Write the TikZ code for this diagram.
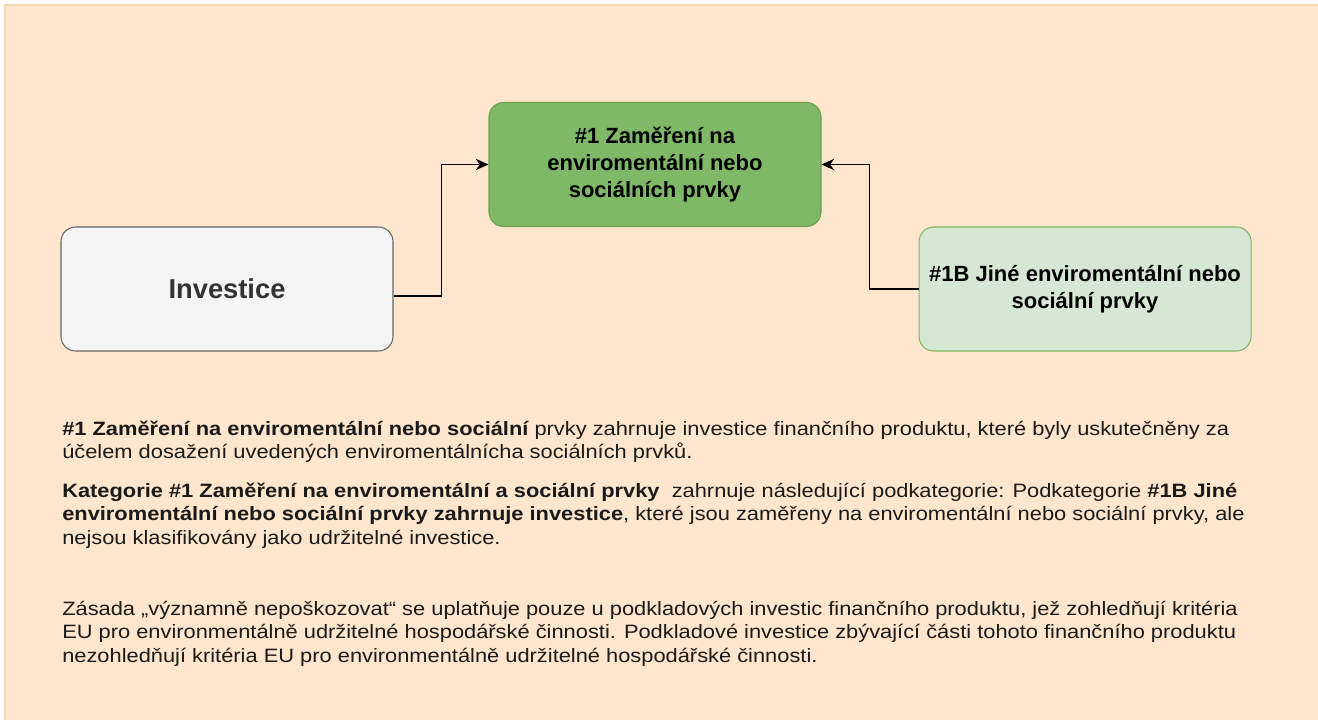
\documentclass[tikz,border=0pt]{standalone}
\usepackage{fontspec}
\setmainfont{Liberation Sans}
\newfontfamily\bodyfont[FakeStretch=1.13]{Liberation Sans}
\usetikzlibrary{positioning}
\usetikzlibrary{arrows.meta}
\usetikzlibrary{calc}

\definecolor{pagefill}{HTML}{FFE6CC}
\definecolor{pageline}{HTML}{F7D9AE}
\definecolor{focusfill}{HTML}{7FB866}
\definecolor{focusline}{HTML}{6A9F55}
\definecolor{otherfill}{HTML}{D5E8D4}
\definecolor{otherline}{HTML}{82B366}
\definecolor{invfill}{HTML}{F5F5F5}
\definecolor{invline}{HTML}{666666}
\definecolor{invtext}{HTML}{333333}
\definecolor{bodytext}{HTML}{1A1A1A}

\begin{document}
\begin{tikzpicture}[ x = 0.75pt
                   , y = -0.75pt
                   , >={Stealth[length=9.5pt, width=8.5pt, inset=3pt]}
                   , every node/.style = { align = center
                                       , inner sep = 0pt }
                   ]

  \useasboundingbox (0,0) rectangle (1318,720);
  \fill[white] (0,0) rectangle (1318,720);
  \draw[fill=pagefill, draw=pageline, line width=1pt] (5,5) rectangle (1322,724);

  %%
  %% Nodes
  %%
  \tikzset{ box/.style={rectangle, rounded corners=11pt, line width=0.8pt,
                        minimum width=249pt, minimum height=93pt,
                        font=\fontsize{16.5pt}{20.4pt}\selectfont\bfseries}
          , focus/.style={box, fill=focusfill, draw=focusline}
          , other/.style={box, fill=otherfill, draw=otherline}
          , inv/.style={box, fill=invfill, draw=invline, text=invtext,
                        font=\fontsize{20.5pt}{24pt}\selectfont\bfseries}
          , para/.style={anchor=base west, align=left, text=bodytext,
                         font=\bodyfont\fontsize{14.5pt}{17.6pt}\selectfont}
          }

  \node (inv) [inv] at (227,289) {Investice};
  \node (oth) [other, right = 393.75pt of inv] {\#1B Jiné enviromentální nebo\\ sociální prvky};
  \node (foc) [focus] at (655,164.5) {\#1 Zaměření na\\ enviromentální nebo\\ sociálních prvky};

  %%
  %% Relationship between nodes (arrows)
  %%
  \draw[->, line width=0.8pt] ([yshift=-5.25pt]inv.east) -- ++(48,0) |- (foc.west);
  \draw[->, line width=0.8pt] (oth.west) -- ++(-49,0) |- (foc.east);

  %%
  %% Description (anchored at the last line's baseline)
  %%
  \node (txta) [para] at (62,458.5) {{\bfseries \#1 Zaměření na enviromentální nebo sociální} prvky zahrnuje investice finančního produktu, které byly uskutečněny za\\
    účelem dosažení uvedených enviromentálnícha sociálních prvků.};
  \node (txtb) [para] at (62,544) {{\bfseries Kategorie \#1 Zaměření na enviromentální a sociální prvky}\ \ zahrnuje následující podkategorie: Podkategorie {\bfseries \#1B Jiné}\\
    {\bfseries enviromentální nebo sociální prvky zahrnuje investice}, které jsou zaměřeny na enviromentální nebo sociální prvky, ale\\
    nejsou klasifikovány jako udržitelné investice.};
  \node (txtc) [para] at (62,662) {Zásada „významně nepoškozovat“ se uplatňuje pouze u podkladových investic finančního produktu, jež zohledňují kritéria\\
    EU pro environmentálně udržitelné hospodářské činnosti. Podkladové investice zbývající části tohoto finančního produktu\\
    nezohledňují kritéria EU pro environmentálně udržitelné hospodářské činnosti.};
\end{tikzpicture}
\end{document}
